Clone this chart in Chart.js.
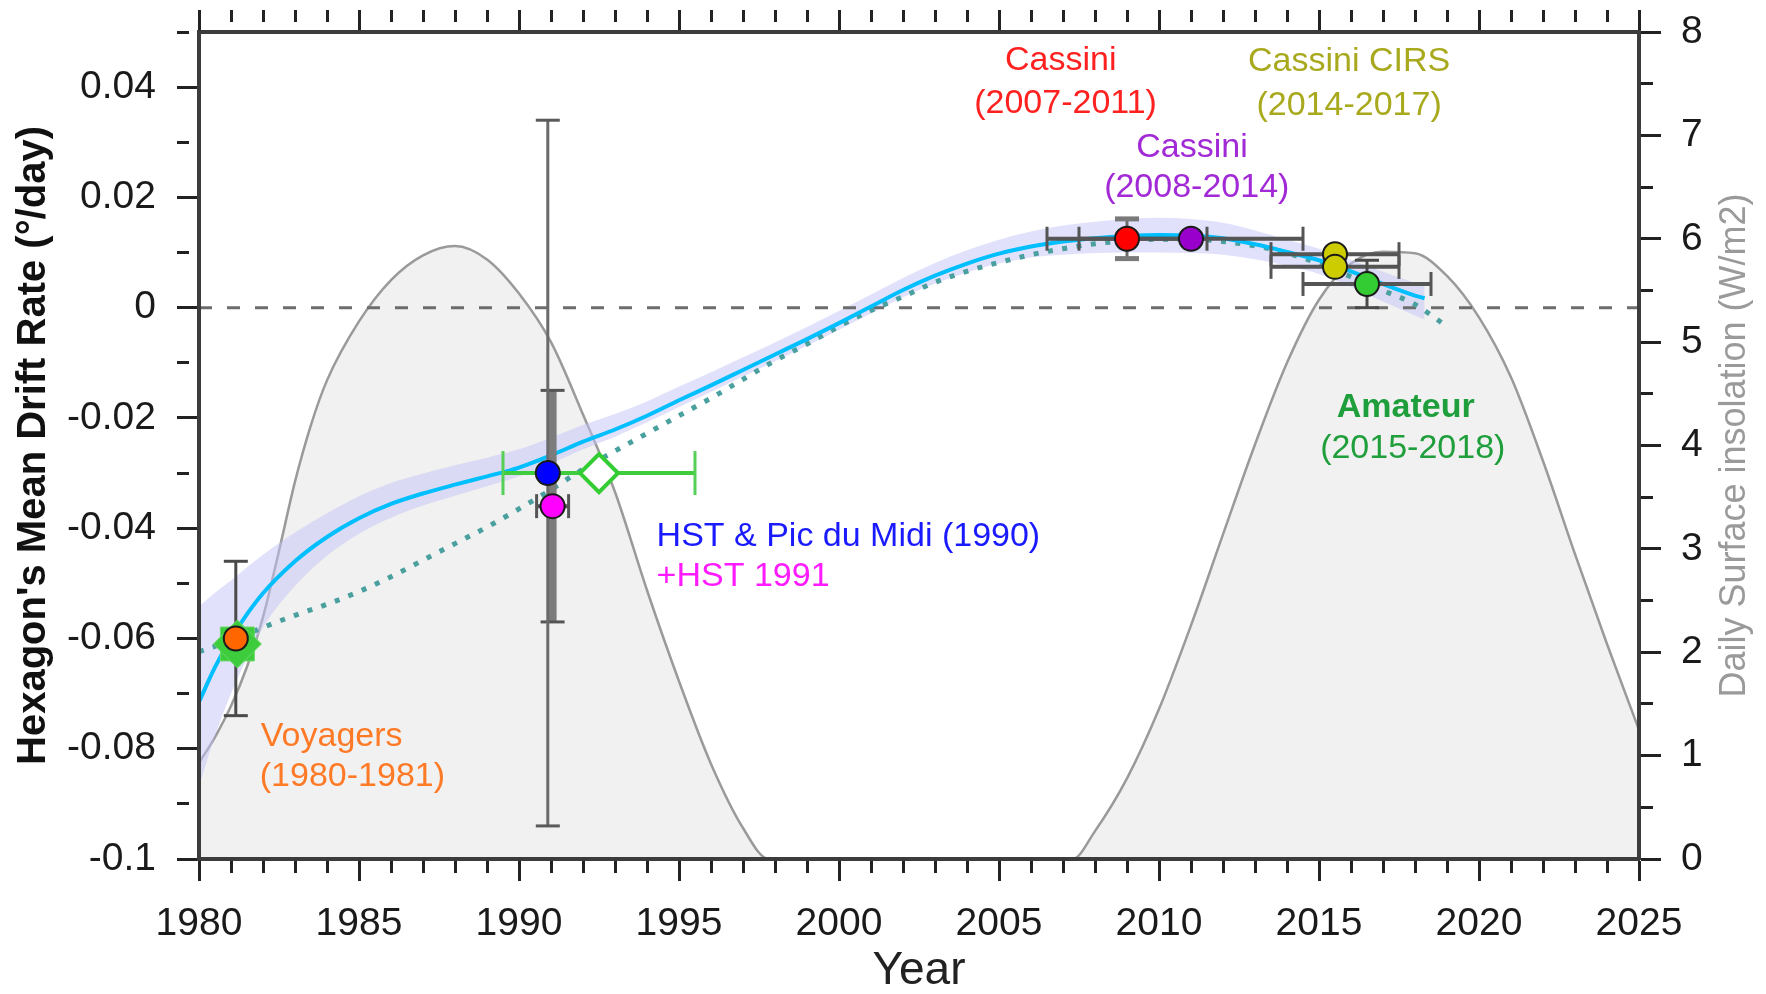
<!DOCTYPE html>
<html>
<head>
<meta charset="utf-8">
<title>Hexagon drift rate and polar insolation</title>
<script src="https://cdn.jsdelivr.net/npm/chart.js@4.4.1/dist/chart.umd.min.js"></script>
<style>
  html, body { margin: 0; padding: 0; background: #ffffff; }
  #wrap { width: 1766px; height: 994px; }
</style>
</head>
<body>
<div id="wrap"><canvas id="chart" width="1766" height="994"></canvas></div>
<script>
// ---------- data ----------
// daily surface insolation (W/m2), right axis
const insolYears  = [1980, 1980.5, 1981, 1981.5, 1982, 1982.5, 1983, 1983.5, 1984, 1985, 1986, 1987, 1988, 1989, 1990, 1991,
                     1992, 1993, 1994, 1995, 1996, 1997, 1997.8,
                     2007.3, 2008, 2009, 2010, 2011, 2012, 2013, 2014, 2015, 2016, 2017, 2018, 2019, 2020, 2021, 2022, 2023, 2024, 2025];
const insolValues = [0.93, 1.18, 1.48, 1.86, 2.34, 2.98, 3.65, 4.20, 4.63, 5.20, 5.60, 5.84, 5.93, 5.80, 5.47, 5.00,
                     4.30, 3.55, 2.60, 1.72, 0.92, 0.30, 0,
                     0, 0.27, 0.78, 1.45, 2.26, 3.14, 4.01, 4.80, 5.41, 5.76, 5.875, 5.86, 5.64, 5.24, 4.66, 3.85, 2.95, 2.08, 1.25];

// fitted mean drift rate (deg/day) with its confidence band
const fitYears = [1980, 1980.5, 1981, 1981.5, 1982, 1983, 1984, 1985, 1986, 1987, 1988, 1989, 1990, 1991, 1992, 1993, 1994, 1995, 1996, 1997,
                  1998, 1999, 2000, 2001, 2002, 2003, 2004, 2005, 2006, 2007, 2008, 2009, 2010, 2011, 2012, 2013, 2014, 2015, 2016, 2017, 2018, 2018.3];
const fitRates = [-0.0715, -0.0652, -0.0600, -0.0556, -0.0518, -0.0460, -0.0416, -0.0382, -0.0356, -0.0337, -0.0321, -0.0306, -0.0290, -0.0268,
                  -0.0243, -0.0221, -0.0196, -0.0168, -0.0141, -0.0113, -0.0085, -0.0057, -0.0028, 0.0002, 0.0032, 0.0058, 0.0080, 0.0098,
                  0.0111, 0.0120, 0.0126, 0.0130, 0.0132, 0.0131, 0.0126, 0.0115, 0.0101, 0.0086, 0.0066, 0.0043, 0.0022, 0.0017];
const fitUpper = [-0.0542, -0.0517, -0.0495, -0.0471, -0.0448, -0.0408, -0.0373, -0.0342, -0.0318, -0.0301, -0.0286, -0.0272, -0.0257, -0.0236,
                  -0.0213, -0.0193, -0.0170, -0.0143, -0.0117, -0.0090, -0.0063, -0.0035, -0.0006, 0.0024, 0.0054, 0.0081, 0.0104, 0.0123,
                  0.0138, 0.0149, 0.0156, 0.0161, 0.0163, 0.0161, 0.0154, 0.0140, 0.0123, 0.0107, 0.0087, 0.0065, 0.0045, 0.0040];
const fitLower = [-0.0868, -0.0777, -0.0700, -0.0636, -0.0580, -0.0505, -0.0450, -0.0410, -0.0381, -0.0359, -0.0341, -0.0324, -0.0306, -0.0283,
                  -0.0257, -0.0234, -0.0208, -0.0180, -0.0153, -0.0125, -0.0097, -0.0069, -0.0040, -0.0010, 0.0019, 0.0044, 0.0064, 0.0080,
                  0.0091, 0.0096, 0.0099, 0.0100, 0.0100, 0.0099, 0.0096, 0.0088, 0.0076, 0.0061, 0.0038, 0.0011, -0.0014, -0.0021];

// dotted trend curve
const trendYears = [1980, 1981, 1982, 1983, 1984, 1985, 1986, 1987, 1988, 1989, 1990, 1991, 1992, 1993, 1994, 1995, 1996, 1997, 1998, 1999,
                    2000, 2001, 2002, 2003, 2004, 2005, 2006, 2007, 2008, 2009, 2010, 2011, 2012, 2013, 2014, 2015, 2016, 2017, 2018, 2018.9];
const trendRates = [-0.0624, -0.0604, -0.0580, -0.0558, -0.0538, -0.0515, -0.0488, -0.0458, -0.0428, -0.0398, -0.0365, -0.0330, -0.0293,
                    -0.0260, -0.0228, -0.0196, -0.0164, -0.0130, -0.0096, -0.0066, -0.0034, -0.0005, 0.0020, 0.0046, 0.0066, 0.0082,
                    0.0096, 0.0107, 0.0116, 0.0121, 0.0124, 0.0124, 0.0120, 0.0112, 0.0099, 0.0080, 0.0056, 0.0031, 0.0006, -0.0030];

// measurements: Voyagers, HST 1990, HST 1991, Cassini 2007-2011, Cassini 2008-2014, Cassini CIRS (x2), Amateur
const obsNames   = ['Voyagers', 'HST & Pic du Midi 1990', 'HST 1991', 'Cassini 2007-2011', 'Cassini 2008-2014',
                    'Cassini CIRS', 'Cassini CIRS', 'Amateur'];
const obsYears   = [1981.15, 1990.9, 1991.05, 2009.0, 2011.0, 2015.5, 2015.5, 2016.5];
const obsRates   = [-0.060, -0.030, -0.036, 0.0125, 0.0125, 0.0097, 0.0074, 0.0043];
const obsRateErr = [0.014, 0.064, 0.021, 0.0036, 0, 0, 0, 0.0043];
const obsYearErr = [0, 0, 0.5, 2.5, 3.5, 2, 2, 2];

// second set of estimates (green markers)
const groundYears   = [1981.2, 1992.5];
const groundRates   = [-0.061, -0.030];
const groundYearErr = [0, 3];

// tick labels
const yearTickValues  = [1980, 1985, 1990, 1995, 2000, 2005, 2010, 2015, 2020, 2025];
const yearTickLabels  = ['1980', '1985', '1990', '1995', '2000', '2005', '2010', '2015', '2020', '2025'];
const rateTickValues  = [0.04, 0.02, 0, -0.02, -0.04, -0.06, -0.08, -0.1];
const rateTickLabels  = ['0.04', '0.02', '0', '-0.02', '-0.04', '-0.06', '-0.08', '-0.1'];
const insolTickValues = [0, 1, 2, 3, 4, 5, 6, 7, 8];
const insolTickLabels = ['0', '1', '2', '3', '4', '5', '6', '7', '8'];

// ---------- styles ----------
const FONT = "'Liberation Sans', Arial, Helvetica, sans-serif";
Chart.defaults.font.family = FONT;

const obsColors = ['#ff6600', '#0000ff', '#ff00ff', '#ff0000', '#9900cc', '#cccc00', '#cccc00', '#33cc33'];
const rateBarStyle = [
  {color: '#4a4a4a', width: 3, cap: 12, capColor: '#4a4a4a', capWidth: 3},
  {color: '#6a6a6a', width: 3, cap: 12, capColor: '#5a5a5a', capWidth: 3},
  {color: '#7c7c7c', width: 8, cap: 12, capColor: '#555555', capWidth: 3},
  {color: '#6a6a6a', width: 3, cap: 12, capColor: '#7a7a7a', capWidth: 5},
  null, null, null,
  {color: '#4a4a4a', width: 3, cap: 12, capColor: '#4a4a4a', capWidth: 3}
];
const yearBarStyle   = {color: '#555555', width: 4, cap: 12, capColor: '#555555', capWidth: 3};
const groundBarStyle = {color: '#3fcc3f', width: 4, cap: 22, capColor: '#55cf55', capWidth: 3};

// annotation layout (data coordinates of each text anchor)
const notes = [
  {text: 'Voyagers',                 year: 1981.93, rate: -0.0778, color: '#ff7a26', align: 'left'},
  {text: '(1980-1981)',              year: 1981.90, rate: -0.0850, color: '#ff7a26', align: 'left'},
  {text: 'HST & Pic du Midi (1990)', year: 1994.30, rate: -0.0416, color: '#1a1aff', align: 'left'},
  {text: '+HST 1991',                year: 1994.30, rate: -0.0488, color: '#ff1aff', align: 'left'},
  {text: 'Cassini',                  year: 2006.93, rate: 0.0448,  color: '#ff2020', align: 'center'},
  {text: '(2007-2011)',              year: 2007.08, rate: 0.0370,  color: '#ff2020', align: 'center'},
  {text: 'Cassini',                  year: 2011.03, rate: 0.0291,  color: '#a22ad6', align: 'center'},
  {text: '(2008-2014)',              year: 2011.18, rate: 0.0217,  color: '#a22ad6', align: 'center'},
  {text: 'Cassini CIRS',             year: 2015.94, rate: 0.0447,  color: '#a9a91e', align: 'center'},
  {text: '(2014-2017)',              year: 2015.94, rate: 0.0367,  color: '#a9a91e', align: 'center'},
  {text: 'Amateur',                  year: 2017.71, rate: -0.0182, color: '#1f9e3c', align: 'center', bold: true},
  {text: '(2015-2018)',              year: 2017.93, rate: -0.0256, color: '#1f9e3c', align: 'center'}
];

// ---------- helpers ----------
const pts = (xs, ys) => xs.map((x, i) => ({x: x, y: ys[i]}));

function labelFor(values, labels, v) {
  for (let i = 0; i < values.length; i++) {
    if (Math.abs(values[i] - v) < 1e-9) return labels[i];
  }
  return '';
}

const minorDash = [12, 60];
function tickDash(values) {
  return ctx => (ctx.tick && labelFor(values, values, ctx.tick.value) === '') ? minorDash : [];
}

function errorSegment(points, s, rotation, order) {
  return {
    type: 'line', label: 'error', data: points, yAxisID: 'y',
    borderColor: s.color, borderWidth: s.width, showLine: true, tension: 0, fill: false,
    pointStyle: 'line', pointRadius: s.cap, pointHoverRadius: s.cap, pointRotation: rotation,
    pointBorderColor: s.capColor, pointBorderWidth: s.capWidth, pointBackgroundColor: s.capColor,
    order: order
  };
}

// ---------- datasets ----------
const datasets = [];

datasets.push({
  type: 'line', label: 'Daily surface insolation', data: pts(insolYears, insolValues), yAxisID: 'y2',
  borderColor: '#9a9a9a', borderWidth: 2.5, backgroundColor: '#f1f1f1', fill: 'origin',
  pointRadius: 0, cubicInterpolationMode: 'monotone', order: 100
});

datasets.push({
  type: 'line', label: 'Fit upper', data: pts(fitYears, fitUpper), yAxisID: 'y',
  borderWidth: 0, borderColor: 'rgba(0,0,0,0)', backgroundColor: 'rgba(196,196,247,0.5)', fill: '+1',
  pointRadius: 0, cubicInterpolationMode: 'monotone', order: 90
});
datasets.push({
  type: 'line', label: 'Fit lower', data: pts(fitYears, fitLower), yAxisID: 'y',
  borderWidth: 0, borderColor: 'rgba(0,0,0,0)', fill: false,
  pointRadius: 0, cubicInterpolationMode: 'monotone', order: 90
});

datasets.push({
  type: 'line', label: 'Zero', data: [{x: 1980, y: 0}, {x: 2025, y: 0}], yAxisID: 'y',
  borderColor: '#6c6c6c', borderWidth: 3, borderDash: [13, 15], pointRadius: 0, fill: false, order: 80
});

datasets.push({
  type: 'line', label: 'Trend', data: pts(trendYears, trendRates), yAxisID: 'y',
  borderColor: '#4a9f9f', borderWidth: 5, borderDash: [5, 9.5], borderCapStyle: 'butt',
  pointRadius: 0, fill: false, cubicInterpolationMode: 'monotone', order: 70
});

datasets.push({
  type: 'line', label: 'Fit', data: pts(fitYears, fitRates), yAxisID: 'y',
  borderColor: '#00bfff', borderWidth: 4, pointRadius: 0, fill: false,
  cubicInterpolationMode: 'monotone', order: 60
});

obsYears.forEach((yr, i) => {
  const v = obsRates[i];
  if (obsRateErr[i] > 0) {
    datasets.push(errorSegment([{x: yr, y: v - obsRateErr[i]}, {x: yr, y: v + obsRateErr[i]}],
      rateBarStyle[i], 0, i === 2 ? 45 : 40));
  }
  if (obsYearErr[i] > 0) {
    datasets.push(errorSegment([{x: yr - obsYearErr[i], y: v}, {x: yr + obsYearErr[i], y: v}],
      yearBarStyle, 90, 42));
  }
});

groundYears.forEach((yr, i) => {
  if (groundYearErr[i] > 0) {
    datasets.push(errorSegment([{x: yr - groundYearErr[i], y: groundRates[i]}, {x: yr + groundYearErr[i], y: groundRates[i]}],
      groundBarStyle, 90, 38));
  }
});

// green eight-point marker behind the Voyager point
datasets.push({
  type: 'line', label: 'Ground star', yAxisID: 'y', showLine: false,
  data: [{x: groundYears[0], y: groundRates[0]}, {x: groundYears[0], y: groundRates[0]}],
  pointStyle: ['rect', 'rectRot'], pointRadius: 24, pointBackgroundColor: '#3ccc3c',
  pointBorderColor: '#6ad86a', pointBorderWidth: 1, order: 35
});
// open diamond
datasets.push({
  type: 'line', label: 'Ground diamond', yAxisID: 'y', showLine: false,
  data: [{x: groundYears[1], y: groundRates[1]}],
  pointStyle: 'rectRot', pointRadius: 19, pointBackgroundColor: '#ffffff',
  pointBorderColor: '#33cc33', pointBorderWidth: 4, order: 30
});

datasets.push({
  type: 'line', label: 'Measurements', yAxisID: 'y', showLine: false,
  data: pts(obsYears, obsRates),
  pointStyle: 'circle', pointRadius: 12, pointBackgroundColor: obsColors,
  pointBorderColor: '#1a1a1a', pointBorderWidth: 2, order: 10
});

// ---------- text plugin ----------
const textLayer = {
  id: 'textLayer',
  afterDatasetsDraw(chart) {
    const {ctx, scales} = chart;
    ctx.save();
    ctx.textBaseline = 'middle';
    notes.forEach(n => {
      ctx.font = (n.bold ? 'bold ' : '') + '34px ' + FONT;
      ctx.fillStyle = n.color;
      ctx.textAlign = n.align;
      ctx.fillText(n.text, scales.x.getPixelForValue(n.year), scales.y.getPixelForValue(n.rate));
    });
    ctx.restore();
  },
  afterDraw(chart) {
    const {ctx, chartArea} = chart;
    ctx.save();
    ctx.translate(chart.width - 31, (chartArea.top + chartArea.bottom) / 2);
    ctx.rotate(-Math.PI / 2);
    ctx.font = '36px ' + FONT;
    ctx.fillStyle = '#9a9a9a';
    ctx.textAlign = 'center';
    ctx.textBaseline = 'middle';
    ctx.fillText('Daily Surface insolation (W/m2)', 0, 0);
    ctx.restore();
  }
};

// ---------- axes ----------
const AXIS_COLOR = '#3c3c3c';
const TICK_COLOR = '#222222';
const LABEL_COLOR = '#1a1a1a';

function gridOpts(values) {
  return {drawOnChartArea: false, drawTicks: true, tickLength: 22, tickWidth: 3,
          tickColor: TICK_COLOR, tickBorderDash: tickDash(values), z: 1};
}
const border = {display: true, color: AXIS_COLOR, width: 4, z: 1};

// fixed box sizes so the plotting frame sits where the axes need it
function fixHeight(h) {
  return s => { s.height = h; s.paddingLeft = 0; s.paddingRight = 0; };
}
function fixWidth(w) {
  return s => { s.width = w; s.paddingTop = 0; s.paddingBottom = 0; };
}

const chart = new Chart(document.getElementById('chart'), {
  type: 'line',
  data: {datasets: datasets},
  plugins: [textLayer],
  options: {
    responsive: false,
    animation: false,
    events: [],
    layout: {padding: 0},
    plugins: {legend: {display: false}, tooltip: {enabled: false}},
    scales: {
      x: {
        type: 'linear', position: 'bottom', min: 1980, max: 2025,
        grid: gridOpts(yearTickValues), border: border,
        ticks: {stepSize: 1, autoSkip: false, maxRotation: 0, minRotation: 0, padding: 20,
                color: LABEL_COLOR, font: {size: 39},
                callback: v => labelFor(yearTickValues, yearTickLabels, v)},
        title: {display: true, text: 'Year', color: '#222222', font: {size: 46, lineHeight: 1}, padding: 0},
        afterFit: fixHeight(135)
      },
      xTop: {
        type: 'linear', position: 'top', min: 1980, max: 2025,
        grid: gridOpts(yearTickValues), border: border,
        ticks: {display: false, stepSize: 1, autoSkip: false},
        afterFit: fixHeight(32)
      },
      y: {
        type: 'linear', position: 'left', min: -0.1, max: 0.05,
        grid: gridOpts(rateTickValues), border: border,
        ticks: {stepSize: 0.01, autoSkip: false, padding: 21, color: LABEL_COLOR, font: {size: 39},
                callback: v => labelFor(rateTickValues, rateTickLabels, v)},
        title: {display: true, text: "Hexagon's Mean Drift Rate (°/day)", color: '#111111',
                font: {size: 40, weight: 'bold', lineHeight: 1.2}, padding: {top: 10, bottom: 0}},
        afterFit: fixWidth(199)
      },
      y2: {
        type: 'linear', position: 'right', min: 0, max: 8,
        grid: gridOpts(insolTickValues), border: border,
        ticks: {stepSize: 0.5, autoSkip: false, padding: 20, color: LABEL_COLOR, font: {size: 39},
                callback: v => labelFor(insolTickValues, insolTickLabels, v)},
        afterFit: fixWidth(127)
      }
    }
  }
});
</script>
</body>
</html>
